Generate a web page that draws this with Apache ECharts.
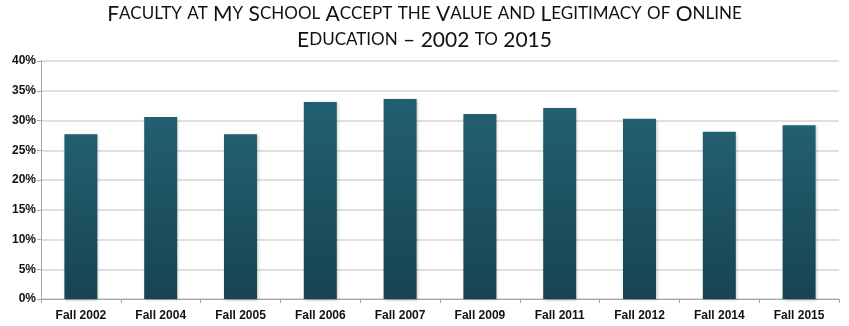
<!DOCTYPE html>
<html><head><meta charset="utf-8">
<script src="https://cdn.jsdelivr.net/npm/echarts@6/dist/echarts.min.js"></script>
<style>html,body{margin:0;padding:0;background:#fff}#c{width:849px;height:326px}</style>
</head><body><div id="c"></div>
<script>
const categories = ['Fall 2002','Fall 2004','Fall 2005','Fall 2006','Fall 2007','Fall 2009','Fall 2011','Fall 2012','Fall 2014','Fall 2015'];
const values = [27.7, 30.6, 27.7, 33.1, 33.6, 31.1, 32.1, 30.3, 28.1, 29.2];
const titleLines = ['Faculty at My School Accept the Value and Legitimacy of Online', 'Education \u2013 2002 to 2015'];

function smallCaps(s){
  let out = '';
  let cur = null, buf = '';
  const flush = () => { if (buf) { out += '{' + cur + '|' + buf + '}'; buf=''; } };
  for (const ch of s) {
    const t = (ch >= 'a' && ch <= 'z') ? 's' : 'b';
    const c = t === 's' ? ch.toUpperCase() : ch;
    if (t !== cur) { flush(); cur = t; }
    buf += c;
  }
  flush();
  return out;
}

const chart = echarts.init(document.getElementById('c'));
chart.setOption({
  animation: false,
  title: {
    text: titleLines.map(smallCaps).join('\n'),
    left: 'center', top: 1, padding: 0,
    textStyle: {
      fontWeight: 'normal',
      rich: {
        b: { fontFamily: 'Lato', fontWeight: 'normal', fontSize: 21, color: '#111', lineHeight: 26 },
        s: { fontFamily: 'Lato', fontWeight: 'normal', fontSize: 17, color: '#111', lineHeight: 26 }
      }
    }
  },
  grid: { left: 41, right: 10, top: 61, bottom: 27, containLabel: false },
  xAxis: {
    type: 'category', data: categories,
    axisLine: { lineStyle: { color: '#a6a6a6' } },
    axisTick: { show: true, alignWithLabel: false, length: 4, lineStyle: { color: '#a6a6a6' } },
    axisLabel: { color: '#111', fontFamily: 'Liberation Sans', fontWeight: 'bold', fontSize: 12, margin: 11 }
  },
  yAxis: {
    type: 'value', min: 0, max: 40, interval: 5,
    axisLine: { show: true, lineStyle: { color: '#a6a6a6' } },
    axisTick: { show: true, length: 4, lineStyle: { color: '#a6a6a6' } },
    axisLabel: { formatter: '{value}%', color: '#111', fontFamily: 'Liberation Sans', fontWeight: 'bold', fontSize: 12, margin: 5 },
    splitLine: { lineStyle: { color: '#d4d4d4', width: 1.5 } }
  },
  series: [{
    type: 'bar', data: values, barWidth: 33,
    itemStyle: {
      color: new echarts.graphic.LinearGradient(0, 0, 0, 1, [
        { offset: 0, color: '#225f71' },
        { offset: 1, color: '#174452' }
      ]),
      shadowColor: 'rgba(0,0,0,0.25)', shadowBlur: 3, shadowOffsetX: 1, shadowOffsetY: 1
    }
  }]
});
</script></body></html>
